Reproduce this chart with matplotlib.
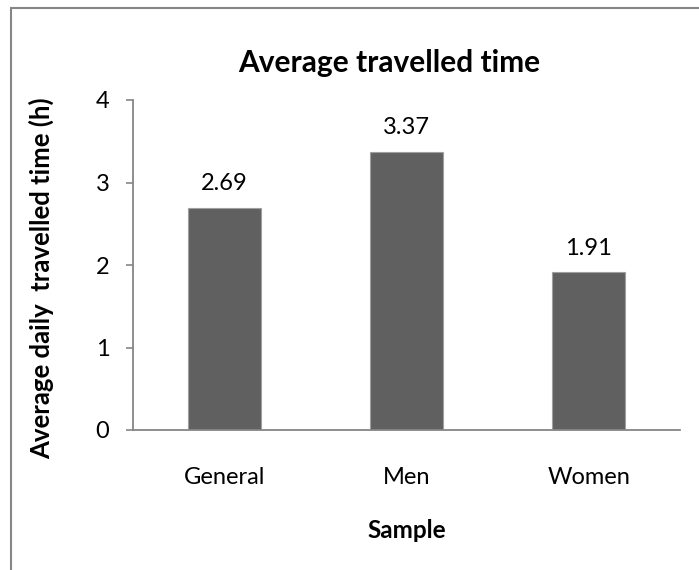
import matplotlib
matplotlib.use("Agg")
import matplotlib.pyplot as plt
from matplotlib.patches import Rectangle

categories = ["General", "Men", "Women"]
values = [2.69, 3.37, 1.91]
yticks = [0, 1, 2, 3, 4]

W, H, DPI = 699, 570, 100
FONT = ["Lato", "DejaVu Sans"]
plt.rcParams["font.family"] = FONT

fig = plt.figure(figsize=(W / DPI, H / DPI), dpi=DPI)
fig.patch.set_facecolor("white")

# chart-area frame
fig.add_artist(Rectangle((11 / W, -0.01), 1.0, (H - 8) / H + 0.01,
                         transform=fig.transFigure, fill=False,
                         edgecolor="#868686", linewidth=1.5))

ax = fig.add_axes([133 / W, (H - 430) / H, 547 / W, 330 / H])
x = range(len(categories))
ax.bar(x, values, width=0.4, color="#606060", edgecolor="#a0a0a0", linewidth=0.8)

for xi, v in zip(x, values):
    ax.annotate(f"{v:.2f}", (xi, v), xytext=(0, 10), textcoords="offset points",
                ha="center", va="bottom", fontsize=17, color="#000000")

ax.set_xlim(-0.5, 2.5)
ax.set_ylim(0, 4)
ax.set_yticks(yticks)
ax.set_xticks(list(x))
ax.set_xticklabels(categories)

for s in ["top", "right"]:
    ax.spines[s].set_visible(False)
for s in ["left", "bottom"]:
    ax.spines[s].set_color("#868686")
    ax.spines[s].set_linewidth(1.3)

ax.tick_params(axis="y", length=5, width=1.2, color="#868686", labelsize=17, pad=12)
ax.tick_params(axis="x", length=0, labelsize=17, pad=27)

ax.set_xlabel("Sample", fontsize=17.5, fontweight="bold", labelpad=22)
ax.set_ylabel("Average daily  travelled time (h)", fontsize=18.5, fontweight="bold")
ax.yaxis.set_label_coords(-0.145, 0.46)

fig.text(389 / W, 1 - 63 / H, "Average travelled time", ha="center", va="center",
         fontsize=21.5, fontweight="bold")

fig.savefig("out.png", dpi=DPI, facecolor="white")
